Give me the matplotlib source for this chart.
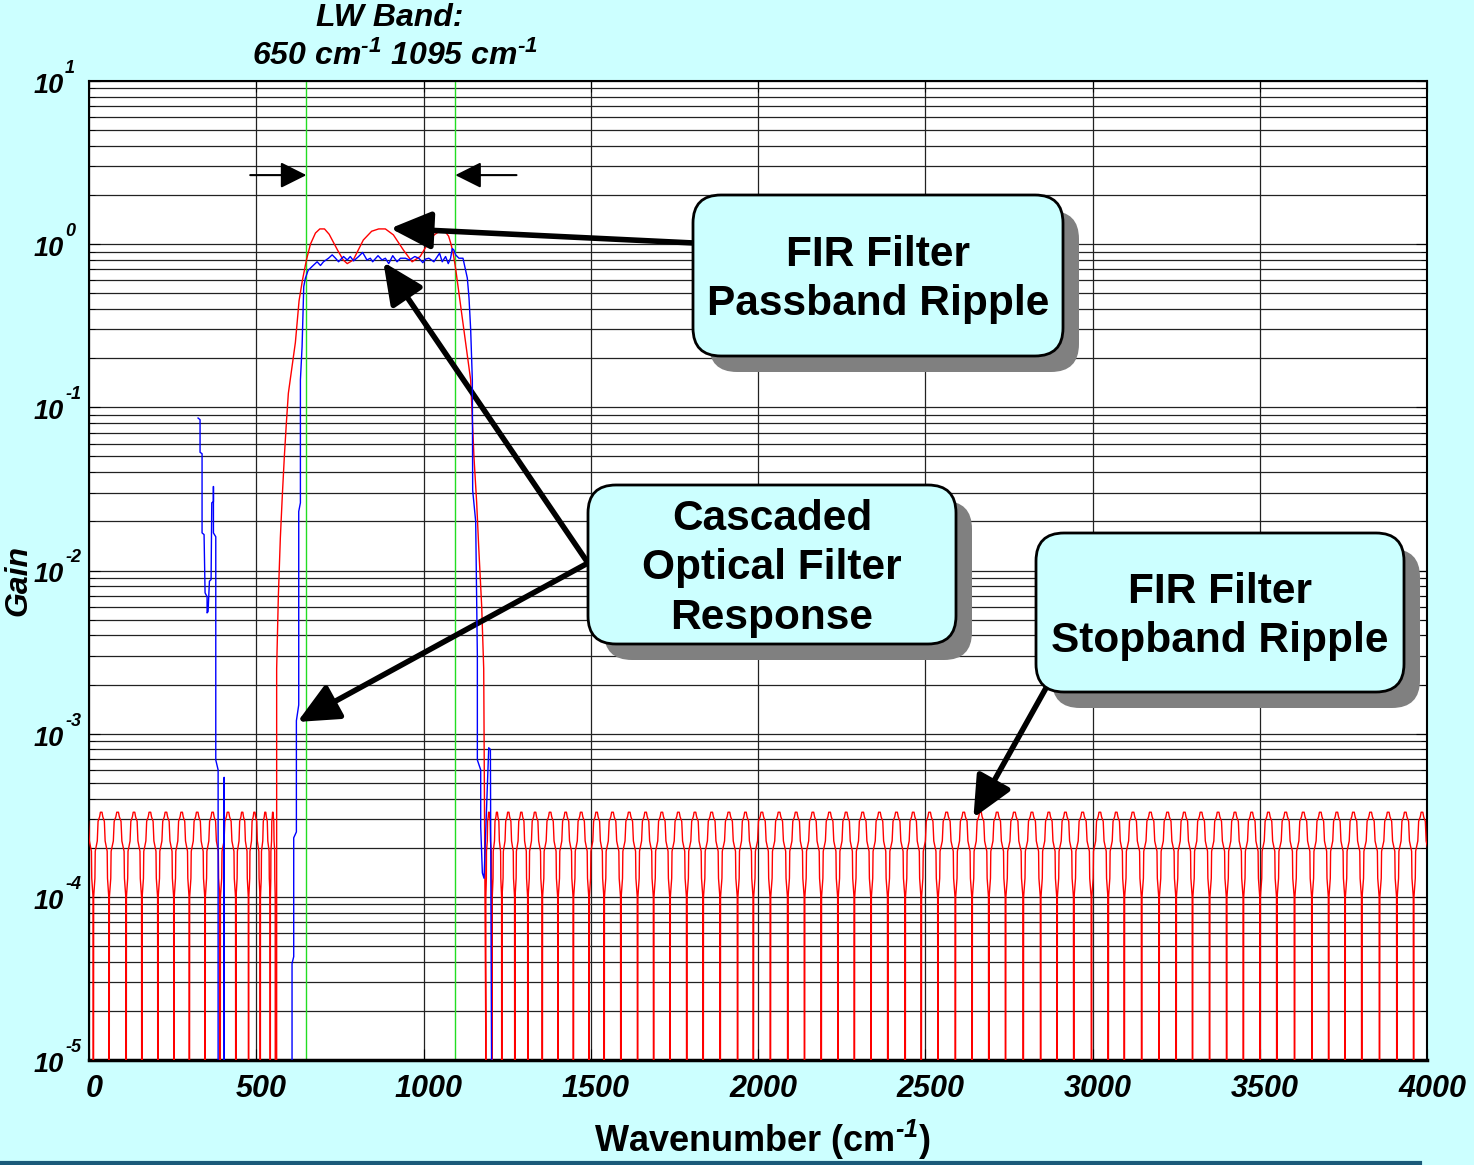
import matplotlib
matplotlib.use("Agg")
import matplotlib.pyplot as plt
from matplotlib.patches import FancyBboxPatch
from matplotlib.lines import Line2D
from matplotlib.transforms import IdentityTransform, Affine2D, offset_copy
from matplotlib.ticker import NullFormatter

# ---- data ----------------------------------------------------------------
FLOOR = 1e-7   # nulls fall below the 1e-5 bottom of the axis

# FIR filter stopband: positions of the nulls (cm^-1)
red_left_nulls = [-35, 13, 60, 111, 158, 206, 254, 300, 347, 392, 439, 477, 512, 542, 557]
red_right_nulls = [1186, 1205, 1234, 1273, 1312, 1355, 1402, 1448, 1495, 1540, 1590,
                   1640, 1688, 1737, 1787, 1836, 1887, 1939, 1986, 2037, 2089, 2139,
                   2189, 2239, 2288, 2338, 2388, 2440, 2488, 2538, 2590, 2640, 2690,
                   2740, 2793, 2845, 2894, 2944, 2997, 3047, 3095, 3147, 3199, 3250,
                   3299, 3350, 3401, 3451, 3501, 3551, 3604, 3656, 3706, 3755, 3805,
                   3858, 3910, 3960, 4010]
# shape of one stopband lobe (fraction of lobe width, gain)
lobe_frac = [0.0, 0.02, 0.10, 0.12, 0.25, 0.30, 0.40, 0.45, 0.55, 0.60, 0.70, 0.75, 0.88, 0.90, 0.98, 1.0]
lobe_gain = [FLOOR, 1.0e-4, 1.3e-4, 1.9e-4, 2.2e-4, 2.9e-4, 3.1e-4, 3.3e-4, 3.3e-4, 3.1e-4,
             2.9e-4, 2.2e-4, 1.9e-4, 1.3e-4, 1.0e-4, FLOOR]

# FIR filter passband (transition edges + ripple)
red_pass_wn = [561, 561, 566, 572, 578, 584, 590, 596, 604, 617, 628, 638, 650, 662, 677,
               690, 704, 718, 743, 760, 772, 790, 820, 845, 866, 886, 910, 940, 966, 990,
               1012, 1032, 1048, 1064, 1075, 1081, 1088, 1096, 1105, 1117, 1132, 1141,
               1147, 1151, 1159, 1165, 1174, 1180, 1186]
red_pass_gain = [FLOOR, 0.0025, 0.0069, 0.0158, 0.029, 0.05, 0.08, 0.122, 0.16, 0.25, 0.45,
                 0.60, 0.80, 1.0, 1.17, 1.24, 1.24, 1.15, 0.92, 0.80, 0.76, 0.80, 1.06, 1.20,
                 1.24, 1.24, 1.14, 0.92, 0.78, 0.84, 1.0, 1.14, 1.20, 1.20, 1.12, 1.02, 0.90,
                 0.71, 0.52, 0.34, 0.20, 0.147, 0.076, 0.049, 0.026, 0.014, 0.006, 0.0025,
                 1.6e-5]

# cascaded optical filter response
blue_wn = [326, 332, 332, 338, 338, 344, 347, 353, 353, 356, 360, 365, 367, 372, 372, 372,
           379, 379, 386, 386, 404, 404, 405, 607, 607, 612, 612, 620, 620, 627, 627, 632,
           632, 637, 642, 647, 655, 667, 682, 692, 701, 716, 727, 737, 746, 761, 772, 781,
           791, 806, 818, 831, 841, 848, 864, 876, 886, 896, 908, 921, 931, 946, 958, 974,
           986, 998, 1006, 1016, 1031, 1048, 1056, 1066, 1074, 1081, 1086, 1091, 1096,
           1106, 1118, 1126, 1131, 1136, 1141, 1146, 1147, 1156, 1161, 1161, 1171, 1171,
           1176, 1181, 1195, 1200, 1207]
blue_gain = [0.086, 0.084, 0.053, 0.052, 0.017, 0.0166, 0.0073, 0.0069, 0.0055, 0.0056,
             0.0086, 0.0088, 0.026, 0.0264, 0.0327, 0.017, 0.0161, 6.9e-4, 6.0e-4, FLOOR,
             FLOOR, 5.4e-4, FLOOR, FLOOR, 3.9e-5, 4.3e-5, 2.3e-4, 2.5e-4, 1.2e-3, 1.5e-3,
             0.023, 0.026, 0.147, 0.235, 0.55, 0.62, 0.69, 0.73, 0.78, 0.74, 0.78, 0.82,
             0.86, 0.82, 0.78, 0.84, 0.80, 0.84, 0.79, 0.84, 0.89, 0.80, 0.82, 0.78, 0.85,
             0.80, 0.82, 0.76, 0.85, 0.78, 0.82, 0.82, 0.80, 0.84, 0.82, 0.77, 0.81, 0.82,
             0.78, 0.88, 0.78, 0.84, 0.76, 0.82, 0.94, 0.92, 0.86, 0.82, 0.82, 0.69, 0.62,
             0.47, 0.30, 0.147, 0.031, 0.020, 0.003, 6.9e-4, 6.0e-4, 2.7e-4, 1.4e-4, 1.3e-4,
             8.2e-4, 8.0e-4, FLOOR]

band_edges = [650, 1095]
xticks = [0, 500, 1000, 1500, 2000, 2500, 3000, 3500, 4000]
xtick_labels = ["0", "500", "1000", "1500", "2000", "2500", "3000", "3500", "4000"]
yticks = [1e-5, 1e-4, 1e-3, 1e-2, 1e-1, 1e0, 1e1]
ytick_exps = ["-5", "-4", "-3", "-2", "-1", "0", "1"]

W, H = 1474, 1165
BG = "#CCFFFF"

plt.rcParams['font.family'] = ['Liberation Sans', 'DejaVu Sans']
plt.rcParams['font.weight'] = 'bold'
plt.rcParams['font.style'] = 'italic'
plt.rcParams['mathtext.fontset'] = 'custom'
plt.rcParams['mathtext.rm'] = 'Liberation Sans:bold:italic'
plt.rcParams['mathtext.it'] = 'Liberation Sans:bold:italic'
plt.rcParams['mathtext.bf'] = 'Liberation Sans:bold:italic'


def lobes(nulls):
    wn, g = [], []
    for a, b in zip(nulls[:-1], nulls[1:]):
        for f, v in zip(lobe_frac, lobe_gain):
            wn.append(a + f * (b - a))
            g.append(v)
    return wn, g


lw_l, lg_l = lobes(red_left_nulls)
lw_r, lg_r = lobes(red_right_nulls)
red_wn = lw_l + red_pass_wn + lw_r
red_gain = lg_l + red_pass_gain + lg_r

fig = plt.figure(figsize=(W / 100, H / 100), dpi=100, facecolor=BG)
ax = fig.add_axes([89 / W, 1 - 1060 / H, (1427 - 89) / W, (1060 - 81) / H])
ax.set_facecolor("white")
ax.set_yscale("log")
ax.set_xlim(0, 4000)
ax.set_ylim(1e-5, 10)

ax.grid(which="major", color="#222222", lw=0.9)
ax.grid(which="minor", axis="y", color="#222222", lw=0.9)
ax.set_axisbelow(True)

for e in band_edges:
    ax.axvline(e, color="#22DD22", lw=1.0, zorder=2)
ax.plot(red_wn, red_gain, color="#FF0000", lw=1.0, zorder=3)
ax.plot(blue_wn, blue_gain, color="#0000FF", lw=1.0, zorder=4)

ax.set_xticks(xticks, xtick_labels)
ax.set_yticks(yticks)
ax.yaxis.set_minor_formatter(NullFormatter())
ax.tick_params(which="both", direction="in", top=True, right=True, labelsize=22)
ax.tick_params(axis="y", labelleft=False)
ax.tick_params(which="major", length=8)
ax.tick_params(which="minor", length=4)
ax.tick_params(axis="x", pad=10)
for lab in ax.get_xticklabels():
    lab.set_transform(lab.get_transform() + Affine2D().translate(5, 0))
for s in ax.spines.values():
    s.set_linewidth(1.5)
ax.spines["bottom"].set_linewidth(2.5)

# y tick labels: "10" with a small superscript exponent
ytr = ax.get_yaxis_transform()
for v, e in zip(yticks, ytick_exps):
    ax.text(0, v, "10", transform=offset_copy(ytr, fig=fig, x=-25, y=-12, units="dots"),
            ha="right", va="baseline", fontsize=19.5)
    ax.text(0, v, e, transform=offset_copy(ytr, fig=fig, x=-24, y=8, units="dots"),
            ha="left", va="baseline", fontsize=13)

# band arrows
for tip, tail in [(650, 482), (1095, 1278)]:
    ax.annotate("", xy=(tip, 2.65), xytext=(tail, 2.65),
                arrowprops=dict(arrowstyle="-|>,head_length=0.8,head_width=0.4",
                                mutation_scale=20, lw=1.5, color="k",
                                shrinkA=0, shrinkB=0))

# callout arrows: tip in data, tail at box edge (figure pixels)
callouts = [((901, 1.25), (694, 243)),
            ((880, 0.776), (588, 563)),
            ((623, 1.18e-3), (588, 563)),
            ((2644, 3.05e-4), (1046, 688))]
for tip, tail in callouts:
    ax.annotate("", xy=tip, xycoords="data", xytext=(tail[0], H - tail[1]),
                textcoords="figure pixels",
                arrowprops=dict(arrowstyle="-|>,head_length=1.25,head_width=0.58",
                                mutation_scale=20, lw=4, color="k",
                                shrinkA=0, shrinkB=0))

# callout boxes with drop shadow
boxes = [((693, 195, 1063, 356), "FIR Filter\nPassband Ripple"),
         ((588, 485, 956, 644), "Cascaded\nOptical Filter\nResponse"),
         ((1036, 533, 1404, 692), "FIR Filter\nStopband Ripple")]
for (x0, y0, x1, y1), txt in boxes:
    sh = FancyBboxPatch((x0 + 16, H - y1 - 16), x1 - x0, y1 - y0,
                        boxstyle="round,pad=0,rounding_size=28",
                        transform=IdentityTransform(), fc="#808080", ec="none", zorder=3)
    fig.add_artist(sh)
    bx = FancyBboxPatch((x0, H - y1), x1 - x0, y1 - y0,
                        boxstyle="round,pad=0,rounding_size=28",
                        transform=IdentityTransform(), fc=BG, ec="k", lw=2, zorder=4)
    fig.add_artist(bx)
    fig.text((x0 + x1) / 2 / W, 1 - ((y0 + y1) / 2 + 4) / H, txt, ha="center", va="center",
             fontsize=30.5, style="normal", linespacing=1.31, zorder=5)

fig.text(390 / W, 1 - 18 / H, "LW Band:", ha="center", va="center", fontsize=23)
fig.text(395 / W, 1 - 56 / H, r"650 cm$^{\text{-1}}$ 1095 cm$^{\text{-1}}$", ha="center",
         va="center", fontsize=23)
fig.text(18 / W, 1 - 581 / H, "Gain", rotation=90, ha="center", va="center", fontsize=23)
fig.text(763 / W, 1 - 1140 / H, r"Wavenumber (cm$^{\text{-1}}$)", ha="center",
         va="center", fontsize=26, style="normal")

fig.add_artist(Line2D([0, 1420 / W], [1 - 1163 / H] * 2, color="#1A5A7A", lw=3,
                      transform=fig.transFigure))

fig.savefig("out.png", dpi=100, facecolor=BG)
